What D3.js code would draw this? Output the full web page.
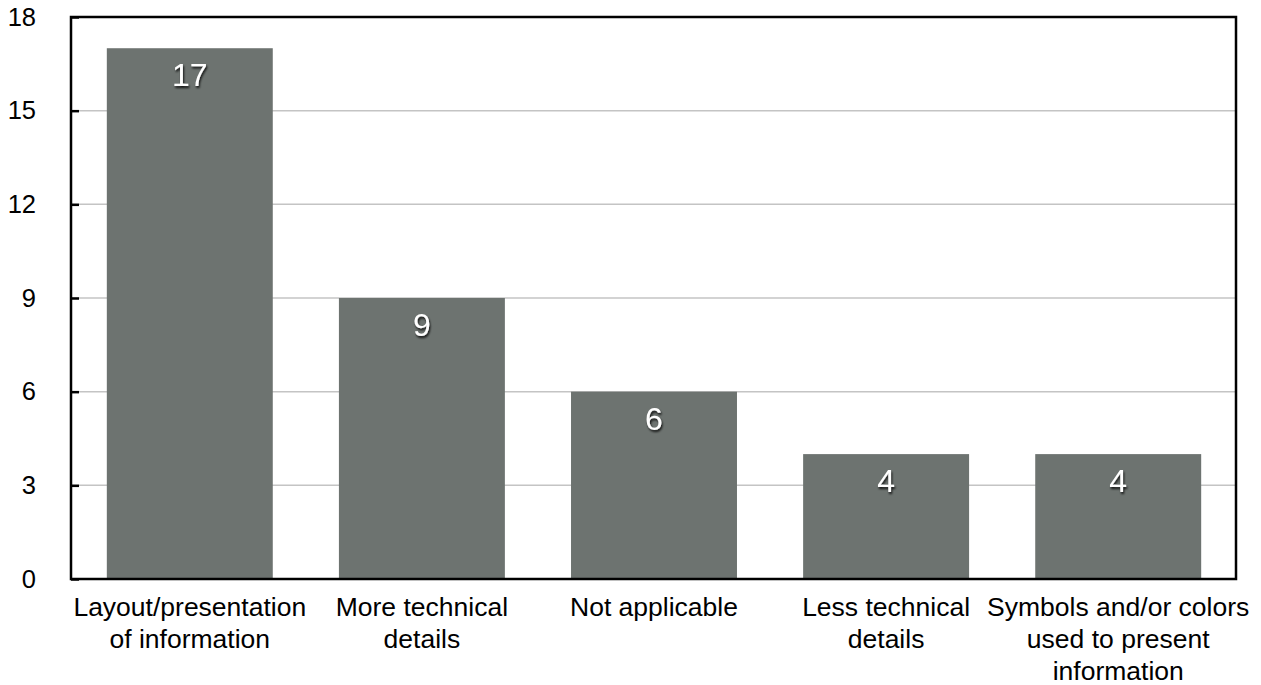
<!DOCTYPE html>
<html>
<head>
<meta charset="utf-8">
<script src="https://cdn.jsdelivr.net/npm/d3@7/dist/d3.min.js"></script>
<style>
  html, body { margin: 0; padding: 0; background: #fff; }
  svg { display: block; font-family: "Liberation Sans", Arial, Helvetica, sans-serif; }
</style>
</head>
<body>
<svg id="chart" width="1261" height="685"></svg>
<script>
const categories = [
  ["Layout/presentation", "of information"],
  ["More technical", "details"],
  ["Not applicable"],
  ["Less technical", "details"],
  ["Symbols and/or colors", "used to present", "information"]
];
const values = [17, 9, 6, 4, 4];
const yTicks = [0, 3, 6, 9, 12, 15, 18];

const svg = d3.select("#chart");
const pL = 71, pR = 1236, pT = 17, pB = 579;

const x = d3.scaleBand()
  .domain(d3.range(values.length))
  .range([pL + 1, pR])
  .paddingInner(0.285)
  .paddingOuter(0.15);
const y = d3.scaleLinear().domain([0, 18]).range([pB, pT]);

const defs = svg.append("defs");
const f = defs.append("filter").attr("id", "sh").attr("x", "-20%").attr("y", "-20%").attr("width", "140%").attr("height", "160%");
f.append("feDropShadow").attr("dx", 1).attr("dy", 2).attr("stdDeviation", 1.2)
  .attr("flood-color", "#000").attr("flood-opacity", 0.85);

// grid
svg.append("g").selectAll("line").data(yTicks.filter(d => d > 0 && d < 18)).join("line")
  .attr("x1", pL).attr("x2", pR)
  .attr("y1", d => y(d)).attr("y2", d => y(d))
  .attr("stroke", "#c4c4c4").attr("stroke-width", 1.5);

// bars
svg.append("g").selectAll("rect").data(values).join("rect")
  .attr("x", (d, i) => x(i)).attr("width", x.bandwidth())
  .attr("y", d => y(d)).attr("height", d => y(0) - y(d))
  .attr("fill", "#6d7370");

// value labels
svg.append("g").selectAll("text").data(values).join("text")
  .attr("x", (d, i) => x(i) + x.bandwidth() / 2)
  .attr("y", d => y(d) + 38)
  .attr("text-anchor", "middle")
  .attr("font-size", 32)
  .attr("fill", "#fff")
  .attr("filter", "url(#sh)")
  .text(d => d);

// y axis
const yAxis = d3.axisLeft(y).tickValues(yTicks).tickSize(-8).tickPadding(35);
const ga = svg.append("g").attr("transform", `translate(${pL},0)`).call(yAxis);
ga.select(".domain").remove();
ga.selectAll(".tick line").attr("stroke", "#000").attr("stroke-width", 2.5);
ga.selectAll(".tick text").attr("font-size", 25.5).attr("fill", "#000")
  .attr("font-family", "Liberation Sans, Arial, sans-serif");

// frame
svg.append("rect").attr("x", pL).attr("y", pT)
  .attr("width", pR - pL).attr("height", pB - pT)
  .attr("fill", "none").attr("stroke", "#000").attr("stroke-width", 2.5);

// x labels
const xl = svg.append("g").selectAll("text").data(categories).join("text")
  .attr("text-anchor", "middle")
  .attr("font-size", 26.5)
  .attr("fill", "#000");
xl.each(function(lines, i) {
  const t = d3.select(this);
  lines.forEach((ln, k) => {
    t.append("tspan").attr("x", x(i) + x.bandwidth() / 2).attr("y", 616 + k * 32).text(ln);
  });
});
</script>
</body>
</html>
